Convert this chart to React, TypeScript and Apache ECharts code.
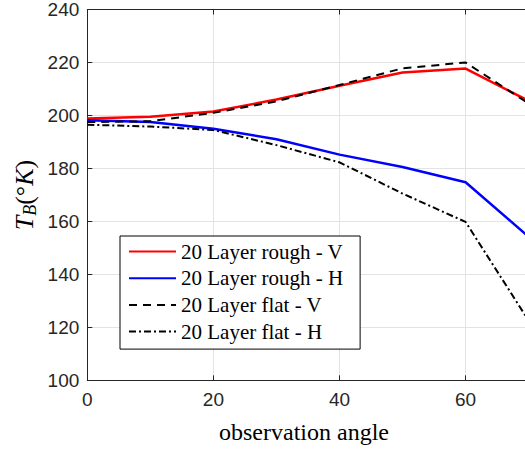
import React, { useEffect, useRef } from "react";
import * as echarts from "echarts";

// Observation angles (degrees)
const angles = [0, 10, 20, 30, 40, 50, 60, 70];

// Brightness temperature T_B (K) per configuration
const roughV = [198.8, 199.5, 201.5, 206, 211.2, 216.2, 217.7, 205.5];
const roughH = [198.2, 197.5, 195, 191, 185.2, 180.5, 174.8, 154.2];
const flatV = [197.5, 197.8, 201, 205.3, 211.5, 217.8, 220, 204.5];
const flatH = [196.5, 195.8, 194.5, 188.8, 182.3, 170.5, 159.8, 122.5];

const seriesNames = [
  "20 Layer rough - V",
  "20 Layer rough - H",
  "20 Layer flat - V",
  "20 Layer flat - H",
];

const xRange = { min: 0, max: 80, interval: 20 };
const yRange = { min: 100, max: 240, interval: 20 };

const axisColor = "#262626";
const gridColor = "#e3e3e3";
const sansFont = "'Liberation Sans', Arial, sans-serif";
const serifFont = "'Liberation Serif', 'Times New Roman', serif";

const pairs = (ys: number[]) => angles.map((a, i) => [a, ys[i]]);

export default function App() {
  const ref = useRef<HTMLDivElement>(null);

  useEffect(() => {
    if (!ref.current) return;
    const chart = echarts.init(ref.current, undefined, { renderer: "svg" });

    const axisBase = {
      type: "value" as const,
      axisLine: { show: true, onZero: false, lineStyle: { color: axisColor, width: 1 } },
      axisTick: { show: true, inside: true, length: 5, lineStyle: { color: axisColor, width: 1 } },
    };

    chart.setOption({
      animation: false,
      backgroundColor: "#ffffff",
      grid: { left: 87.3, right: 8.3, top: 6.3, bottom: 68.7, containLabel: false },
      xAxis: [
        {
          ...axisBase,
          ...xRange,
          position: "bottom",
          axisLabel: { color: axisColor, fontFamily: sansFont, fontSize: 19, margin: 10, showMaxLabel: false },
          splitLine: { show: true, lineStyle: { color: gridColor, width: 1 } },
        },
        {
          ...axisBase,
          ...xRange,
          position: "top",
          axisLabel: { show: false },
          splitLine: { show: false },
        },
      ],
      yAxis: {
        ...axisBase,
        ...yRange,
        position: "left",
        axisLabel: { color: axisColor, fontFamily: sansFont, fontSize: 19, margin: 8 },
        splitLine: { show: true, lineStyle: { color: gridColor, width: 1 } },
      },
      legend: {
        orient: "vertical",
        left: 120,
        top: 236,
        itemWidth: 47,
        itemHeight: 14,
        itemGap: 5.7,
        padding: [5, 17, 7, 8],
        borderColor: "#000000",
        borderWidth: 1,
        borderRadius: 0,
        backgroundColor: "#ffffff",
        selectedMode: false,
        // line-only keys: hide the marker the line series puts in the middle
        itemStyle: { opacity: 0 },
        textStyle: { fontFamily: serifFont, fontSize: 21, color: "#000000", lineHeight: 20 },
        data: seriesNames,
      },
      series: [
        {
          name: seriesNames[0],
          type: "line",
          data: pairs(roughV),
          symbol: "none",
          lineStyle: { color: "#ff0000", width: 2.5 },
          itemStyle: { color: "#ff0000" },
        },
        {
          name: seriesNames[1],
          type: "line",
          data: pairs(roughH),
          symbol: "none",
          lineStyle: { color: "#0000ff", width: 2.5 },
          itemStyle: { color: "#0000ff" },
        },
        {
          name: seriesNames[2],
          type: "line",
          data: pairs(flatV),
          symbol: "none",
          lineStyle: { color: "#000000", width: 2, type: [8, 6] },
          itemStyle: { color: "#000000" },
        },
        {
          name: seriesNames[3],
          type: "line",
          data: pairs(flatH),
          symbol: "none",
          lineStyle: { color: "#000000", width: 2, type: [7, 3, 2, 3] },
          itemStyle: { color: "#000000" },
        },
      ],
      graphic: [
        {
          type: "text",
          x: 304,
          y: 432,
          style: {
            text: "observation angle",
            fontFamily: serifFont,
            fontSize: 24,
            fill: "#000000",
            align: "center",
            verticalAlign: "middle",
          },
        },
        {
          type: "text",
          x: 24,
          y: 195,
          rotation: Math.PI / 2,
          style: {
            text: "{t|T}{s|B}{p|(°}{t|K}{p|)}",
            align: "center",
            verticalAlign: "middle",
            fill: "#000000",
            rich: {
              t: { fontFamily: serifFont, fontStyle: "italic", fontSize: 26, lineHeight: 30, verticalAlign: "middle" },
              s: { fontFamily: serifFont, fontStyle: "italic", fontSize: 18, lineHeight: 30, verticalAlign: "bottom", padding: [7, 0, 0, 0] },
              p: { fontFamily: serifFont, fontSize: 26, lineHeight: 30, verticalAlign: "middle" },
            },
          },
        },
      ],
    });

    return () => chart.dispose();
  }, []);

  return (
    <div style={{ position: "absolute", left: 0, top: 0, width: 525, height: 449, overflow: "hidden", background: "#fff" }}>
      <div ref={ref} style={{ width: 600, height: 449 }} />
    </div>
  );
}
